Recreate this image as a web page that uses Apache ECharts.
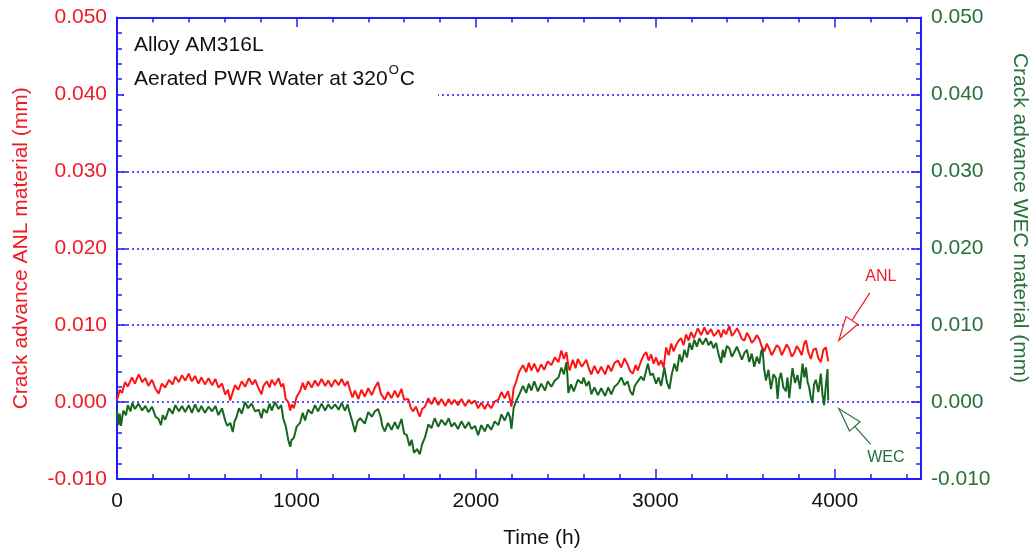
<!DOCTYPE html>
<html>
<head>
<meta charset="utf-8">
<script src="https://cdn.jsdelivr.net/npm/echarts@6/dist/echarts.min.js"></script>
<style>
  html, body { margin: 0; padding: 0; background: #fff; }
  #chart { width: 1031px; height: 552px; }
</style>
</head>
<body>
<div id="chart"></div>
<script>
// Crack advance vs time, AM316L in aerated PWR water at 320 °C
const anlTime = [
  0,15,28,45,60,83,100,121,140,158,
  175,195,215,232,250,269,290,310,325,345,
  362,380,400,417,435,454,470,490,510,530,
  548,565,585,603,618,631,645,658,675,695,
  714,735,755,770,790,805,816,835,850,862,
  880,900,915,927,940,955,965,973,985,1001,
  1020,1035,1048,1065,1085,1103,1120,1140,1160,1177,
  1195,1215,1235,1252,1270,1285,1298,1312,1326,1345,
  1362,1381,1400,1420,1437,1455,1470,1492,1510,1530,
  1548,1565,1585,1600,1623,1638,1650,1665,1687,1700,
  1716,1735,1752,1770,1790,1808,1830,1848,1864,1880,
  1900,1919,1940,1960,1975,1995,2012,2030,2049,2065,
  2085,2105,2125,2142,2160,2179,2190,2198,2210,2225,
  2240,2262,2280,2295,2309,2325,2345,2364,2380,2400,
  2420,2440,2460,2476,2490,2504,2515,2522,2540,2555,
  2568,2590,2615,2630,2643,2660,2680,2698,2720,2737,
  2754,2772,2791,2810,2828,2845,2860,2874,2890,2902,
  2921,2935,2949,2962,2976,2990,3004,3018,3032,3046,
  3060,3074,3088,3102,3115,3130,3143,3157,3171,3185,
  3199,3215,3236,3255,3273,3290,3310,3325,3338,3352,
  3366,3380,3394,3412,3426,3440,3455,3468,3482,3496,
  3510,3523,3537,3551,3565,3579,3593,3607,3621,3635,
  3648,3662,3676,3690,3704,3718,3732,3746,3760,3774,
  3788,3801,3815,3829,3839,3852,3866,3880,3894,3908,
  3922,3936,3950,3963
];
const anlCrack = [
  0.0002,0.0016,0.0012,0.0026,0.0020,0.0032,0.0024,0.0036,0.0026,0.0031,
  0.0021,0.0029,0.0017,0.0011,0.0024,0.0019,0.0029,0.0023,0.0033,0.0026,
  0.0035,0.0028,0.0037,0.0027,0.0034,0.0024,0.0032,0.0023,0.0031,0.0022,
  0.0030,0.0019,0.0024,0.0010,0.0016,0.0002,0.0013,0.0022,0.0016,0.0027,
  0.0020,0.0031,0.0023,0.0029,0.0017,0.0010,0.0021,0.0027,0.0019,0.0029,
  0.0022,0.0031,0.0020,0.0024,0.0004,0.0000,-0.0011,-0.0003,-0.0008,0.0007,
  0.0014,0.0025,0.0016,0.0027,0.0019,0.0028,0.0021,0.0030,0.0021,0.0028,
  0.0020,0.0029,0.0022,0.0030,0.0021,0.0027,0.0016,0.0006,0.0015,0.0004,
  0.0016,0.0007,0.0018,0.0009,0.0019,0.0026,0.0011,0.0003,0.0013,0.0005,
  0.0015,0.0006,0.0017,0.0003,0.0004,-0.0008,-0.0012,-0.0006,-0.0019,-0.0009,
  -0.0006,0.0005,-0.0003,0.0006,-0.0004,0.0004,-0.0005,0.0004,-0.0003,0.0003,
  -0.0004,0.0004,-0.0005,0.0003,-0.0002,0.0002,-0.0008,-0.0001,-0.0009,-0.0002,
  -0.0008,0.0001,0.0003,0.0013,0.0005,0.0014,0.0003,-0.0006,0.0018,0.0027,
  0.0039,0.0048,0.0039,0.0051,0.0041,0.0050,0.0039,0.0049,0.0042,0.0053,
  0.0048,0.0058,0.0052,0.0067,0.0056,0.0065,0.0047,0.0041,0.0055,0.0044,
  0.0056,0.0046,0.0055,0.0043,0.0036,0.0047,0.0037,0.0046,0.0036,0.0048,
  0.0040,0.0051,0.0054,0.0045,0.0057,0.0049,0.0040,0.0037,0.0048,0.0041,
  0.0054,0.0061,0.0065,0.0054,0.0062,0.0050,0.0058,0.0048,0.0054,0.0045,
  0.0071,0.0061,0.0076,0.0066,0.0074,0.0080,0.0083,0.0074,0.0088,0.0080,
  0.0091,0.0083,0.0096,0.0087,0.0097,0.0088,0.0095,0.0086,0.0089,0.0094,
  0.0084,0.0094,0.0088,0.0099,0.0086,0.0090,0.0096,0.0090,0.0082,0.0080,
  0.0090,0.0085,0.0077,0.0081,0.0087,0.0082,0.0072,0.0066,0.0076,0.0069,
  0.0061,0.0067,0.0074,0.0071,0.0061,0.0068,0.0075,0.0069,0.0059,0.0064,
  0.0073,0.0068,0.0061,0.0076,0.0080,0.0065,0.0056,0.0068,0.0070,0.0057,
  0.0052,0.0068,0.0071,0.0053
];

const wecTime = [
  0,8,15,22,35,50,60,75,85,100,
  120,140,158,175,195,215,232,245,255,269,
  290,310,325,345,362,380,400,417,435,454,
  470,490,510,530,548,565,585,603,615,631,
  645,655,665,680,695,714,730,750,770,790,
  805,816,835,850,862,880,900,915,927,940,
  955,965,973,985,1001,1020,1035,1048,1065,1085,
  1103,1120,1140,1160,1177,1195,1215,1235,1252,1270,
  1285,1298,1312,1326,1340,1355,1381,1400,1420,1437,
  1455,1470,1478,1492,1510,1530,1548,1565,1585,1600,
  1615,1630,1642,1655,1672,1687,1700,1716,1735,1752,
  1770,1790,1808,1830,1848,1864,1880,1900,1919,1940,
  1960,1975,1995,2012,2030,2049,2065,2085,2105,2125,
  2142,2160,2179,2190,2198,2210,2225,2240,2262,2280,
  2295,2309,2325,2345,2364,2385,2400,2420,2440,2460,
  2476,2490,2504,2510,2515,2530,2545,2568,2590,2600,
  2615,2630,2643,2660,2680,2698,2720,2737,2754,2772,
  2791,2810,2828,2845,2860,2874,2885,2902,2921,2935,
  2958,2972,2986,3004,3018,3032,3050,3064,3078,3092,
  3106,3120,3134,3148,3162,3176,3190,3204,3217,3231,
  3245,3263,3282,3296,3310,3324,3338,3352,3366,3376,
  3384,3398,3412,3426,3440,3454,3468,3482,3496,3510,
  3523,3537,3551,3565,3579,3590,3597,3606,3616,3630,
  3644,3658,3672,3681,3690,3700,3713,3727,3736,3746,
  3755,3764,3778,3792,3806,3820,3830,3839,3848,3857,
  3866,3875,3884,3894,3908,3922,3931,3940,3950,3959,
  3963
];
const wecCrack = [
  -0.0010,-0.0030,-0.0015,-0.0031,-0.0011,-0.0017,-0.0004,-0.0012,-0.0001,-0.0009,
  -0.0002,-0.0011,-0.0005,-0.0013,-0.0006,-0.0019,-0.0022,-0.0030,-0.0017,-0.0023,
  -0.0008,-0.0015,-0.0004,-0.0012,-0.0005,-0.0013,-0.0004,-0.0014,-0.0003,-0.0013,
  -0.0005,-0.0014,-0.0006,-0.0012,-0.0005,-0.0017,-0.0008,-0.0024,-0.0031,-0.0027,
  -0.0039,-0.0025,-0.0020,-0.0008,-0.0015,0.0000,-0.0008,-0.0002,-0.0012,-0.0010,
  -0.0021,-0.0009,-0.0014,-0.0002,-0.0011,0.0000,-0.0009,-0.0004,-0.0022,-0.0031,
  -0.0050,-0.0058,-0.0049,-0.0047,-0.0032,-0.0027,-0.0014,-0.0024,-0.0010,-0.0015,
  -0.0004,-0.0012,-0.0002,-0.0011,-0.0003,-0.0009,-0.0003,-0.0010,-0.0001,-0.0011,
  -0.0003,-0.0015,-0.0026,-0.0039,-0.0025,-0.0021,-0.0028,-0.0013,-0.0019,-0.0012,
  -0.0009,-0.0020,-0.0031,-0.0038,-0.0027,-0.0036,-0.0026,-0.0035,-0.0022,-0.0041,
  -0.0043,-0.0057,-0.0049,-0.0066,-0.0061,-0.0068,-0.0055,-0.0046,-0.0029,-0.0034,
  -0.0021,-0.0032,-0.0023,-0.0030,-0.0021,-0.0032,-0.0027,-0.0035,-0.0025,-0.0034,
  -0.0026,-0.0035,-0.0031,-0.0043,-0.0030,-0.0038,-0.0029,-0.0036,-0.0025,-0.0030,
  -0.0016,-0.0024,-0.0013,-0.0020,-0.0035,-0.0008,0.0002,0.0009,0.0021,0.0012,
  0.0024,0.0015,0.0027,0.0014,0.0024,0.0015,0.0027,0.0020,0.0028,0.0032,
  0.0045,0.0036,0.0052,0.0033,0.0012,0.0023,0.0014,0.0029,0.0024,0.0032,
  0.0021,0.0027,0.0010,0.0019,0.0009,0.0018,0.0008,0.0019,0.0010,0.0020,
  0.0024,0.0032,0.0022,0.0027,0.0014,0.0009,0.0021,0.0027,0.0033,0.0028,
  0.0050,0.0035,0.0037,0.0024,0.0032,0.0021,0.0045,0.0026,0.0017,0.0037,
  0.0050,0.0040,0.0062,0.0052,0.0068,0.0058,0.0077,0.0068,0.0081,0.0072,
  0.0083,0.0075,0.0083,0.0074,0.0079,0.0070,0.0077,0.0062,0.0051,0.0068,
  0.0058,0.0073,0.0070,0.0059,0.0065,0.0072,0.0064,0.0055,0.0064,0.0068,
  0.0052,0.0063,0.0046,0.0059,0.0050,0.0066,0.0069,0.0043,0.0028,0.0042,
  0.0017,0.0036,0.0031,0.0004,0.0030,0.0038,0.0019,0.0014,0.0032,0.0005,
  0.0027,0.0044,0.0025,0.0035,0.0017,0.0050,0.0032,0.0045,0.0026,0.0019,
  0.0006,-0.0001,0.0023,0.0029,0.0013,0.0037,0.0010,-0.0004,0.0022,0.0043,
  0.0002
];

const timeTicks = [0, 1000, 2000, 3000, 4000];
const crackTicks = [-0.010, 0.000, 0.010, 0.020, 0.030, 0.040, 0.050];

const FONT = "'Liberation Sans', Arial, Helvetica, sans-serif";
const RED = '#ff1414';
const RED_TEXT = '#ee1c24';
const GREEN = '#17661f';
const GREEN_TEXT = '#27703a';
const BLUE = '#1e1eff';

const pairs = (xs, ys) => xs.map((x, i) => [x, ys[i]]);

const X_MIN = 0, X_MAX = 4480;

function timeAxis(position, major, withLabels) {
  return {
    type: 'value', position: position, min: X_MIN, max: X_MAX,
    interval: major ? 1000 : 200,
    axisLine: { show: true, onZero: false, lineStyle: { color: BLUE, width: 2 } },
    axisTick: { show: true, inside: true, length: major ? 10 : 5, lineStyle: { color: BLUE, width: 1.5 } },
    axisLabel: {
      show: withLabels, margin: 12, color: '#111', fontSize: 21, fontFamily: FONT,
      formatter: v => (timeTicks.indexOf(v) >= 0 ? String(v) : '')
    },
    splitLine: { show: false }
  };
}

function crackAxis(position, color, withGrid) {
  return {
    type: 'value', position: position, min: -0.01, max: 0.05, interval: 0.01,
    axisLine: { show: true, onZero: false, lineStyle: { color: BLUE, width: 2 } },
    axisTick: { show: true, inside: true, length: 10, lineStyle: { color: BLUE, width: 1.5 } },
    minorTick: { show: true, splitNumber: 5, length: 5, lineStyle: { color: BLUE, width: 1.5 } },
    axisLabel: {
      margin: 10, color: color, fontSize: 21, fontFamily: FONT,
      formatter: v => {
        const r = Math.round(v * 1000) / 1000;
        return crackTicks.indexOf(r) >= 0 ? r.toFixed(3) : '';
      }
    },
    splitLine: withGrid ? { show: true, lineStyle: { color: BLUE, type: [2, 3], width: 1.5 } } : { show: false }
  };
}

const chart = echarts.init(document.getElementById('chart'), null, { renderer: 'canvas' });

const leftY = crackAxis('left', RED_TEXT, true);
leftY.name = 'Crack advance ANL material (mm)';
leftY.nameLocation = 'middle';
leftY.nameGap = 85;
leftY.nameTextStyle = { color: RED_TEXT, fontSize: 21, fontFamily: FONT };

chart.setOption({
  animation: false,
  backgroundColor: '#fff',
  grid: { left: 117, right: 110, top: 17.5, bottom: 73, containLabel: false },
  xAxis: [
    timeAxis('bottom', true, true),
    timeAxis('bottom', false, false),
    timeAxis('top', true, false),
    timeAxis('top', false, false)
  ],
  yAxis: [leftY, crackAxis('right', GREEN_TEXT, false)],
  series: [
    {
      name: 'ANL', type: 'line', xAxisIndex: 0, yAxisIndex: 0,
      data: pairs(anlTime, anlCrack), showSymbol: false,
      lineStyle: { color: RED, width: 2 }, z: 3
    },
    {
      name: 'WEC', type: 'line', xAxisIndex: 0, yAxisIndex: 1,
      data: pairs(wecTime, wecCrack), showSymbol: false,
      lineStyle: { color: GREEN, width: 2 }, z: 4
    }
  ]
});

// Annotations: arrows are anchored in data space and drawn as hollow-head pointers
const px = (t, v) => chart.convertToPixel({ xAxisIndex: 0, yAxisIndex: 0 }, [t, v]);

function arrow(tail, tip, color) {
  const dx = tail[0] - tip[0], dy = tail[1] - tip[1];
  const len = Math.hypot(dx, dy);
  const ux = dx / len, uy = dy / len;
  const headLen = 24, half = 7;
  const base = [tip[0] + ux * headLen, tip[1] + uy * headLen];
  const l = [base[0] - uy * half, base[1] + ux * half];
  const r = [base[0] + uy * half, base[1] - ux * half];
  return [
    { type: 'polyline', z: 20, shape: { points: [tail, base] }, style: { stroke: color, lineWidth: 1.2, fill: null } },
    { type: 'polygon', z: 20, shape: { points: [tip, l, r] }, style: { stroke: color, lineWidth: 1.2, fill: '#fff' } }
  ];
}

const anlTip = px(4022, 0.0080), anlTail = px(4195, 0.0142), anlLabel = px(4256, 0.0163);
const wecTip = px(4022, -0.00084), wecTail = px(4200, -0.0055), wecLabel = px(4284, -0.0072);

chart.setOption({
  graphic: [
    { type: 'rect', z: 10, shape: { x: 124, y: 27, width: 314, height: 72 }, style: { fill: '#fff' } },
    { type: 'text', z: 11, x: 134, y: 45, style: { text: 'Alloy AM316L', font: '21px ' + FONT, fill: '#111', textVerticalAlign: 'middle' } },
    {
      type: 'text', z: 11, x: 134, y: 77,
      style: {
        text: '{m|Aerated PWR Water at 320}{d|O}{m|C}',
        textVerticalAlign: 'middle',
        rich: {
          m: { fontSize: 21, fontFamily: FONT, fill: '#111', color: '#111', lineHeight: 26, verticalAlign: 'bottom' },
          d: { fontSize: 13, fontFamily: FONT, fill: '#111', color: '#111', verticalAlign: 'top', padding: [0, 1, 0, 1] }
        }
      }
    },
    { type: 'text', z: 11, x: 542, y: 538, style: { text: 'Time (h)', font: '21px ' + FONT, fill: '#111', textAlign: 'center', textVerticalAlign: 'middle' } },
    { type: 'text', z: 11, x: 1020, y: 218, rotation: -Math.PI / 2, style: { text: 'Crack advance WEC material (mm)', font: '21px ' + FONT, fill: GREEN_TEXT, textAlign: 'center', textVerticalAlign: 'middle' } },
    { type: 'text', z: 11, x: anlLabel[0], y: anlLabel[1], style: { text: 'ANL', font: '16px ' + FONT, fill: RED_TEXT, textAlign: 'center', textVerticalAlign: 'middle' } },
    { type: 'text', z: 11, x: wecLabel[0], y: wecLabel[1], style: { text: 'WEC', font: '16px ' + FONT, fill: GREEN_TEXT, textAlign: 'center', textVerticalAlign: 'middle' } }
  ].concat(arrow(anlTail, anlTip, RED_TEXT), arrow(wecTail, wecTip, GREEN_TEXT))
});
</script>
</body>
</html>
